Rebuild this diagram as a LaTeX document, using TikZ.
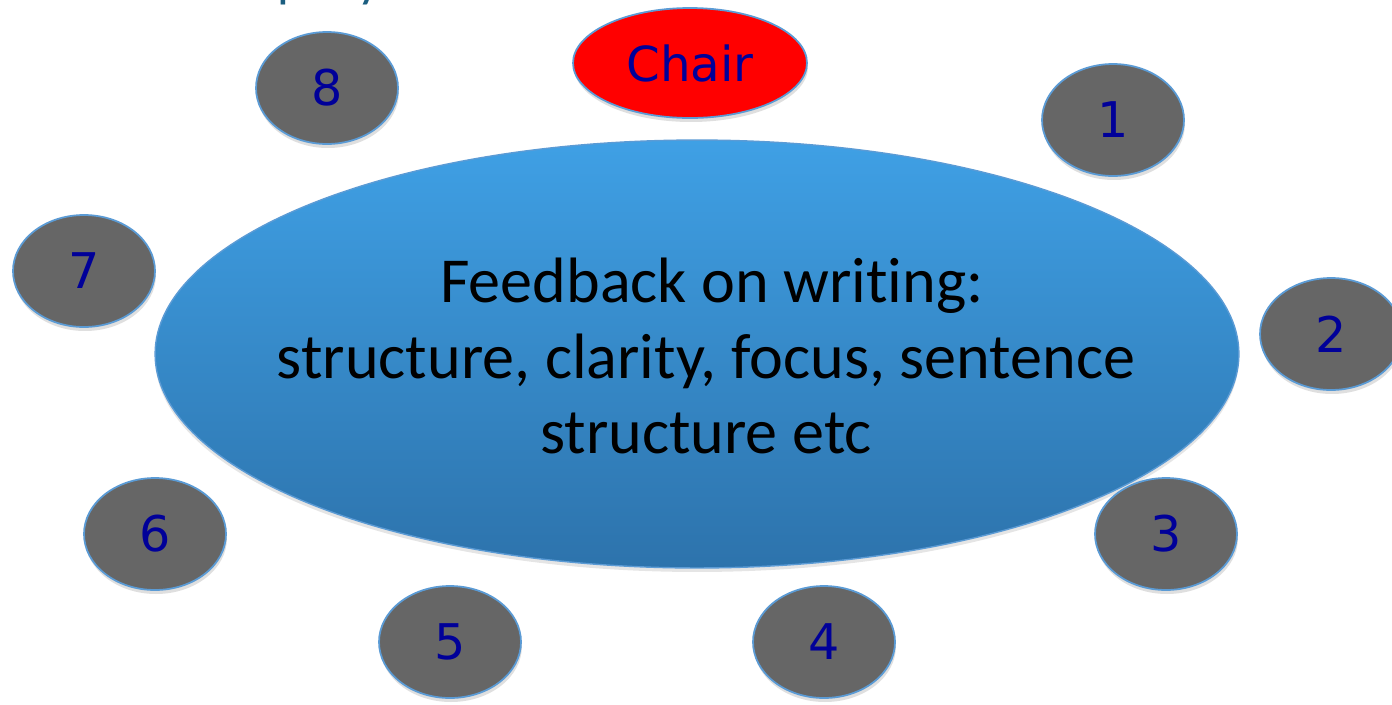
\documentclass[tikz,border=0pt]{standalone}
\usepackage{fontspec}
\setmainfont{Carlito}[Ligatures={NoCommon}]
\newfontfamily\numfont{DejaVu Sans}
\usetikzlibrary{shapes.geometric,shadows}
\definecolor{seatgray}{HTML}{666666}
\definecolor{seatedge}{HTML}{5B9BD5}
\definecolor{numblue}{HTML}{000099}
\definecolor{tabtop}{HTML}{3FA0E5}
\definecolor{tabbot}{HTML}{2D73AC}
\definecolor{titleteal}{HTML}{1B5E80}
\begin{document}
\begin{tikzpicture}[x=0.02cm,y=-0.02cm,
  seat/.style={ellipse, draw=seatedge, line width=1pt, fill=seatgray,
    minimum width=2.84cm, minimum height=2.24cm, inner sep=0pt,
    text=numblue, font=\numfont\fontsize{28}{32}\selectfont,
    drop shadow={opacity=0.25, shadow xshift=0.02cm, shadow yshift=-0.08cm}},
  chairseat/.style={seat, fill=red, minimum width=4.68cm, minimum height=2.2cm,
    font=\numfont\fontsize{27.5}{30}\selectfont},
  tablebox/.style={ellipse, draw=seatedge, line width=0.8pt,
    top color=tabtop, bottom color=tabbot,
    minimum width=21.68cm, minimum height=8.56cm, inner sep=0pt,
    drop shadow={opacity=0.2, shadow xshift=0cm, shadow yshift=-0.08cm}},
  tabletext/.style={anchor=base, inner sep=0pt, text=black,
    font=\fontsize{36.5}{43}\selectfont},
  titlefrag/.style={anchor=base, inner sep=0pt, text=titleteal,
    font=\fontsize{30}{36}\selectfont}]
\useasboundingbox (0,0) rectangle (1392,704);
\fill[white] (0,0) rectangle (1392,704);
% cut-off title above
\node[titlefrag] (tp) at (291,-4) {p};
\node[titlefrag] (ty) at (369,-4) {y};
% table
\node[tablebox] (table) at (697,354) {};
\node[tabletext] (t1) at (712,302) {Feedback on writing:};
\node[tabletext] (t2) at (706,378) {structure, clarity, focus, sentence};
\node[tabletext] (t3) at (706,453) {structure etc};
% seats
\node[chairseat] (chair) at (690,63) {Chair};
\node[seat] (s8) at (327,88) {8};
\node[seat] (s1) at (1113,120) {1};
\node[seat] (s2) at (1331,334) {2};
\node[seat] (s7) at (84,271) {7};
\node[seat] (s6) at (155,534) {6};
\node[seat] (s5) at (450,642) {5};
\node[seat] (s4) at (824,642) {4};
\node[seat] (s3) at (1166,534) {3};
\end{tikzpicture}
\end{document}
